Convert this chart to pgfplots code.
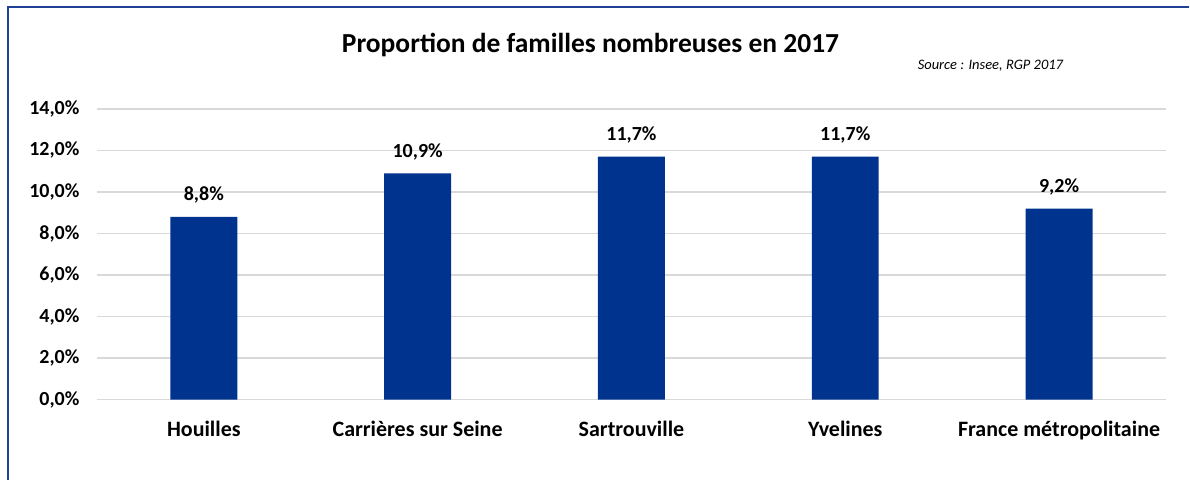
\documentclass[border=0pt]{standalone}
\usepackage{pgfplots}
\pgfplotsset{compat=1.18}
\usepackage{fontspec}
\setmainfont{Carlito}
\definecolor{barblue}{RGB}{0,51,141}
\definecolor{frameblue}{RGB}{32,64,150}
\definecolor{gridgray}{RGB}{217,217,217}
\begin{document}
\begin{tikzpicture}[x=1pt,y=1pt]
\fill[white] (0,0) rectangle (1190,480);
\draw[frameblue, line width=2pt] (8,0) -- (8,473) -- (1190,473);
\node[font=\fontsize{27.5}{30}\selectfont\bfseries, anchor=base] at (591,427) {Proportion de familles nombreuses en 2017};
\node[font=\fontsize{14.5}{17}\selectfont\itshape, anchor=base west] at (915,410) {Source : Insee, RGP 2017};
\begin{axis}[
  at={(97pt,80pt)}, anchor=south west,
  scale only axis, width=1070pt, height=291pt,
  xmin=-0.5, xmax=4.5, ymin=0, ymax=14,
  axis line style={draw=none},
  ymajorgrids, grid style={gridgray, line width=1.5pt},
  major tick length=0pt,
  ytick={0,2,4,6,8,10,12,14},
  yticklabels={{0,0\%},{2,0\%},{4,0\%},{6,0\%},{8,0\%},{10,0\%},{12,0\%},{14,0\%}},
  yticklabel style={font=\fontsize{20}{24}\selectfont\bfseries, anchor=east, xshift=-14pt},
  xtick={0,1,2,3,4},
  xticklabels={Houilles,Carrières sur Seine,Sartrouville,Yvelines,France métropolitaine},
  xticklabel style={font=\fontsize{22}{26}\selectfont\bfseries, anchor=base, yshift=-37pt},
  clip=false,
]
\draw[gridgray, line width=1.5pt] (axis cs:-0.5,0) -- (axis cs:4.5,0);
\addplot[ybar, bar width=67pt, fill=barblue, draw=none,
  point meta=explicit symbolic,
  nodes near coords, nodes near coords align={vertical},
  every node near coord/.style={font=\fontsize{20}{24}\selectfont\bfseries, anchor=base, yshift=16pt, text=black}]
 coordinates {(0,8.8)[8,8\%] (1,10.9)[10,9\%] (2,11.7)[11,7\%] (3,11.7)[11,7\%] (4,9.2)[9,2\%]};
\end{axis}
\end{tikzpicture}
\end{document}
